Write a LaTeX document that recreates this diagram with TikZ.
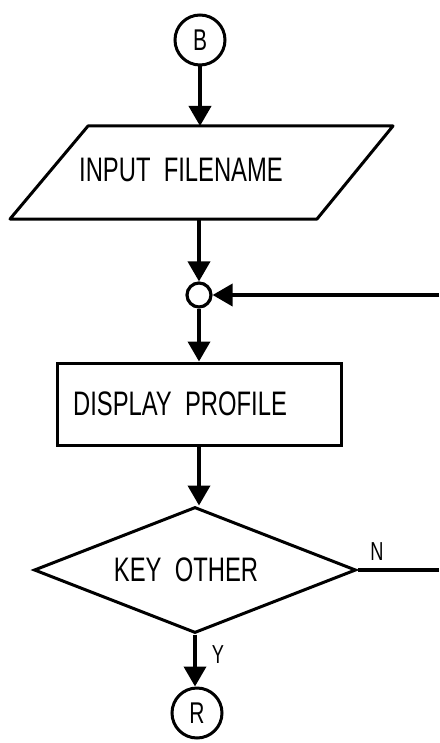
\documentclass[tikz,border=0pt]{standalone}
\usepackage{fontspec}
\setmainfont{Liberation Sans}
\usepackage{graphicx}
\usetikzlibrary{arrows.meta,shapes.geometric}

\newcommand{\fcl}[1]{\scalebox{0.7}[1]{#1}}

\begin{document}
\begin{tikzpicture}[x=0.5pt,y=-0.5pt,>={Triangle[length=10pt,width=11pt]},
conn/.style={line width=1.9pt,->},
plain/.style={line width=1.9pt},
txt/.style={font=\fontsize{17}{20}\selectfont},
lbl/.style={font=\fontsize{13}{15}\selectfont},
box/.style={draw,line width=1.5pt,minimum width=142pt,minimum height=41pt,inner sep=0pt},
dec/.style={draw,line width=1.5pt,diamond,minimum width=161pt,minimum height=63pt,inner sep=0pt},
conr/.style={draw,circle,line width=1.5pt,minimum size=25pt,inner sep=0pt,font=\fontsize{15}{17}\selectfont},
junc/.style={draw,circle,line width=1.6pt,minimum size=12pt,inner sep=0pt}]
\useasboundingbox (0,0) rectangle (439,743);

\node[conr] (b) at (200,40) {\fcl{B}};
% input parallelogram
\draw[line width=1.5pt,line join=round](10,219)--(88,126)--(393,126)--(317,219)--cycle;
\coordinate (inTop) at (200,126);
\coordinate (inBot) at (199,219);
\node[txt] (inp) at (181,170) {\fcl{INPUT\ \ FILENAME}};
\node[junc] (jn) at (199,295) {};
\node[box,label={[txt,xshift=-9.5pt]center:\fcl{DISPLAY\ \ PROFILE}}] (disp) at (199,404) {};
\node[dec,label={[txt,xshift=-4.5pt]center:\fcl{KEY\ \ OTHER}}] (key) at (195,570) {};
\node[conr] (r) at (197,713) {\fcl{R}};
\coordinate (back) at (439,295);
\coordinate (nout) at (439,570);

\draw[conn](b.south)--(inTop);
\draw[conn](inBot)--(jn.north);
\draw[conn](back)--(jn.east);
\draw[conn](jn.south)--(jn.south|-disp.north);
\draw[conn](disp.south)--(disp.south|-key.north);
\draw[plain](key.east)--(nout);
\draw[conn](key.south)--(key.south|-r.north);
\draw(377,552)node[lbl]{\fcl{N}}
(218,655)node[lbl]{\fcl{Y}};
\end{tikzpicture}
\end{document}
